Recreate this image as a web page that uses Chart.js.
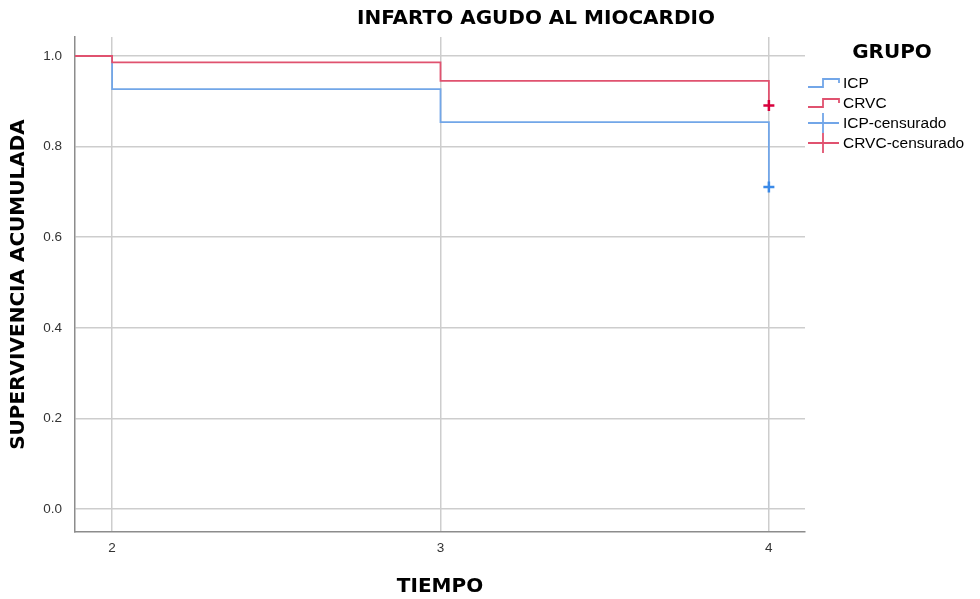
<!DOCTYPE html>
<html>
<head>
<meta charset="utf-8">
<title>Infarto agudo al miocardio</title>
<script src="https://cdn.jsdelivr.net/npm/chart.js@4.4.1/dist/chart.umd.min.js"></script>
<style>
  html, body { margin: 0; padding: 0; background: #ffffff; }
  #wrap { width: 980px; height: 599px; }
</style>
</head>
<body>
<div id="wrap"><canvas id="km" width="980" height="599"></canvas></div>
<script>
// Kaplan-Meier estimates per group (time in years)
const times = [0, 2, 3, 4];
const icpSurvival = [1.0, 0.927, 0.854, 0.711];
const crvcSurvival = [1.0, 0.986, 0.945, 0.891];

// Censored observations
const censorTimes = [4];
const icpCensored = [0.711];
const crvcCensored = [0.891];

// Axis ticks
const xTicks = [2, 3, 4];
const yTicks = [0.0, 0.2, 0.4, 0.6, 0.8, 1.0];

const chartTitle = 'INFARTO AGUDO AL MIOCARDIO';
const xTitle = 'TIEMPO';
const yTitle = 'SUPERVIVENCIA ACUMULADA';
const legendTitle = 'GRUPO';
const groupNames = ['ICP', 'CRVC', 'ICP-censurado', 'CRVC-censurado'];

const COLORS = {
  icpLine: '#72a6e8',
  crvcLine: '#e0526f',
  icpCross: '#3b8ae8',
  crvcCross: '#d8003c',
  grid: '#cdcdcd',
  axis: '#8c8c8c'
};

const toPoints = (xs, ys) => xs.map((x, i) => ({ x: x, y: ys[i] }));

const BOLD = 'bold 20px "DejaVu Sans"';
const REG = '"Liberation Sans", Arial, sans-serif';

// Title and grouped legend with step / cross symbols
const decorations = {
  id: 'decorations',
  afterDraw(chart) {
    const ctx = chart.ctx;
    ctx.save();
    ctx.fillStyle = '#000';
    ctx.textBaseline = 'middle';
    ctx.textAlign = 'center';
    ctx.font = BOLD;
    ctx.fillText(chartTitle, 536, 19);
    ctx.fillText(legendTitle, 892, 53);

    ctx.textAlign = 'left';
    ctx.font = '15.5px ' + REG;
    const x0 = 808, xm = 823, x1 = 839, tx = 843;
    const rows = [83, 103, 123, 143];
    const cols = [COLORS.icpLine, COLORS.crvcLine, COLORS.icpLine, COLORS.crvcLine];
    rows.forEach((y, i) => {
      ctx.strokeStyle = cols[i];
      ctx.lineWidth = 1.8;
      ctx.beginPath();
      if (i < 2) {
        ctx.moveTo(x0, y + 4);
        ctx.lineTo(xm, y + 4);
        ctx.lineTo(xm, y - 4);
        ctx.lineTo(x1, y - 4);
        ctx.lineTo(x1, y);
      } else {
        ctx.moveTo(x0, y);
        ctx.lineTo(x1, y);
        ctx.moveTo(xm, y - 10);
        ctx.lineTo(xm, y + 10);
      }
      ctx.stroke();
      ctx.fillStyle = '#000';
      ctx.fillText(groupNames[i], tx, y + 1);
    });
    ctx.restore();
  }
};

new Chart(document.getElementById('km'), {
  type: 'line',
  data: {
    datasets: [
      {
        label: groupNames[2],
        data: toPoints(censorTimes, icpCensored),
        showLine: false,
        pointStyle: 'cross',
        pointRadius: 5.5,
        pointBorderWidth: 2.5,
        pointBorderColor: COLORS.icpCross,
        order: 0
      },
      {
        label: groupNames[3],
        data: toPoints(censorTimes, crvcCensored),
        showLine: false,
        pointStyle: 'cross',
        pointRadius: 5.5,
        pointBorderWidth: 2.5,
        pointBorderColor: COLORS.crvcCross,
        order: 0
      },
      {
        label: groupNames[1],
        data: toPoints(times, crvcSurvival),
        stepped: 'before',
        borderColor: COLORS.crvcLine,
        borderWidth: 1.8,
        pointRadius: 0,
        fill: false,
        order: 1
      },
      {
        label: groupNames[0],
        data: toPoints(times, icpSurvival),
        stepped: 'before',
        borderColor: COLORS.icpLine,
        borderWidth: 1.8,
        pointRadius: 0,
        fill: false,
        order: 2
      }
    ]
  },
  options: {
    responsive: false,
    animation: false,
    events: [],
    layout: { padding: { left: 0, top: 37, right: 175, bottom: 0 } },
    plugins: {
      legend: { display: false },
      tooltip: { enabled: false },
      title: { display: false }
    },
    scales: {
      x: {
        type: 'linear',
        min: 1.887,
        max: 4.11,
        afterBuildTicks: (s) => { s.ticks = xTicks.map(v => ({ value: v })); },
        afterFit: (s) => { s.height = 67; },
        grid: { color: COLORS.grid, lineWidth: 1.5, drawTicks: false },
        border: { color: COLORS.axis, width: 1.5 },
        ticks: {
          padding: 8,
          color: '#333',
          font: { family: REG, size: 13.5 },
          callback: (v) => String(v)
        },
        title: {
          display: true,
          text: xTitle,
          color: '#000',
          font: { family: 'DejaVu Sans', size: 20, weight: 'bold' },
          padding: { top: 0, bottom: 0 }
        }
      },
      y: {
        type: 'linear',
        min: -0.0508,
        max: 1.042,
        afterBuildTicks: (s) => { s.ticks = yTicks.map(v => ({ value: v })); },
        afterFit: (s) => { s.width = 75; },
        grid: { color: COLORS.grid, lineWidth: 1.5, drawTicks: false },
        border: { color: COLORS.axis, width: 1.5 },
        ticks: {
          padding: 13,
          color: '#333',
          font: { family: REG, size: 13.5 },
          callback: (v) => Number(v).toFixed(1)
        },
        title: {
          display: true,
          text: yTitle,
          color: '#000',
          font: { family: 'DejaVu Sans', size: 20, weight: 'bold' },
          padding: { top: 7, bottom: 0 }
        }
      }
    }
  },
  plugins: [decorations]
});
</script>
</body>
</html>
